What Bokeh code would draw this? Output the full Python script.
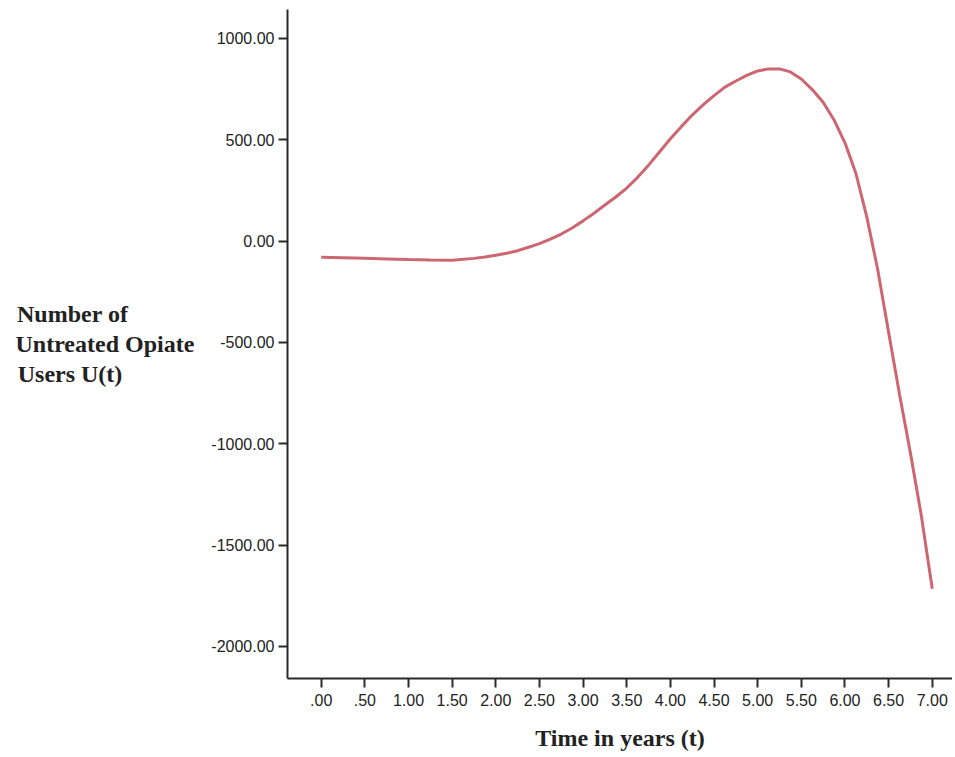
from bokeh.plotting import figure
from bokeh.models import Range1d, FixedTicker
from bokeh.embed import file_html
from bokeh.resources import INLINE

# Time in years (t)
t = [0.0, 0.25, 0.5, 0.75, 1.0, 1.25, 1.5, 1.75, 1.875, 2.0, 2.125, 2.25, 2.375,
     2.5, 2.625, 2.75, 2.875, 3.0, 3.125, 3.25, 3.375, 3.5, 3.625, 3.75, 3.875,
     4.0, 4.125, 4.25, 4.375, 4.5, 4.625, 4.75, 4.875, 5.0, 5.125, 5.25, 5.375,
     5.5, 5.625, 5.75, 5.875, 6.0, 6.125, 6.25, 6.375, 6.5, 6.625, 6.75, 6.875, 7.0]
# Number of untreated opiate users U(t)
u = [-80, -82, -85, -88, -91, -93, -94, -85, -78, -70, -60, -47, -30,
     -12, 10, 35, 65, 100, 138, 178, 218, 262, 315, 375, 440,
     505, 565, 622, 672, 718, 760, 790, 818, 840, 850, 850, 835,
     800, 748, 685, 598, 485, 335, 120, -140, -450, -755, -1045, -1355, -1715]

x_ticks = [0.0, 0.5, 1.0, 1.5, 2.0, 2.5, 3.0, 3.5, 4.0, 4.5, 5.0, 5.5, 6.0, 6.5, 7.0]
x_tick_labels = [".00", ".50", "1.00", "1.50", "2.00", "2.50", "3.00", "3.50",
                 "4.00", "4.50", "5.00", "5.50", "6.00", "6.50", "7.00"]
y_ticks = [-2000, -1500, -1000, -500, 0, 500, 1000]
y_tick_labels = ["-2000.00", "-1500.00", "-1000.00", "-500.00", "0.00", "500.00", "1000.00"]
y_title_lines = ["Number of", "Untreated Opiate", "Users U(t)"]

p = figure(width=952, height=754, output_backend="svg", toolbar_location=None,
           x_range=Range1d(-0.386, 7.232), y_range=Range1d(-2158, 1143),
           min_border_left=287, min_border_right=0, min_border_top=9,
           min_border_bottom=76)
p.background_fill_color = "white"
p.border_fill_color = "white"
p.outline_line_color = None
p.xgrid.visible = False
p.ygrid.visible = False

p.line(t, u, line_color="#cc6670", line_width=3)

p.xaxis.ticker = FixedTicker(ticks=x_ticks)
p.xaxis.major_label_overrides = {k: v for k, v in zip(x_ticks, x_tick_labels)}
p.yaxis.ticker = FixedTicker(ticks=y_ticks)
p.yaxis.major_label_overrides = {k: v for k, v in zip(y_ticks, y_tick_labels)}

for ax in (p.xaxis, p.yaxis):
    ax.axis_line_width = 2
    ax.axis_line_color = "#2a2a2a"
    ax.major_tick_line_color = "#2a2a2a"
    ax.major_tick_line_width = 2
    ax.major_tick_in = 0
    ax.major_tick_out = 9
    ax.minor_tick_line_color = None
    ax.major_label_text_font = "Liberation Sans"
    ax.major_label_text_font_size = "16px"
    ax.major_label_text_color = "#222222"
    ax.axis_label_text_font = "Liberation Serif"
    ax.axis_label_text_font_style = "bold"
    ax.axis_label_text_color = "#222222"
    ax.axis_label_text_font_size = "24px"

p.xaxis.major_label_standoff = 6
p.yaxis.major_label_standoff = 4

p.xaxis.axis_label = "Time in years (t)"
p.xaxis.axis_label_standoff = 16

# multi-line y title; shorter lines padded with no-break spaces so the
# right-aligned block reads as left-aligned, as in the original
nbsp = "\u00a0"
pads = [11, 0, 12]
p.yaxis.axis_label = "\n".join(line + nbsp * n for line, n in zip(y_title_lines, pads))
p.yaxis.axis_label_orientation = "horizontal"
p.yaxis.axis_label_text_line_height = 1.16
p.yaxis.axis_label_standoff = 14

open("out.html", "w").write(file_html(p, INLINE))
